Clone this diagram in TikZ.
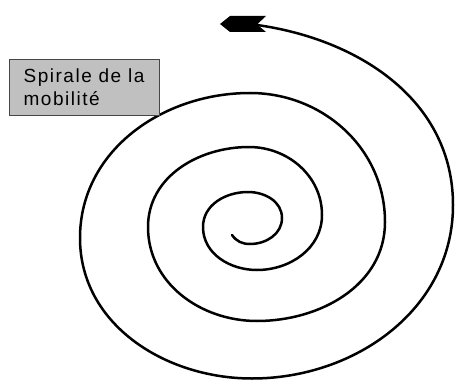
\documentclass[tikz,border=0pt]{standalone}
\usepackage{fontspec}
\usepackage{xcolor}
\usepackage{tikz}
\newfontfamily\legendefont[LetterSpace=8]{Liberation Sans}
\definecolor{grisfond}{RGB}{192,192,192}
\definecolor{grisbord}{RGB}{70,70,70}
\tikzset{
  legende/.style={rectangle,draw=grisbord,fill=grisfond,line width=0.8pt,
    minimum width=150pt,minimum height=56pt,inner sep=0pt,
    align=left,font=\legendefont\fontsize{19}{23}\selectfont},
  spirale/.style={line width=2.5pt,black,line cap=round,line join=round},
  pointe/.style={fill=black,draw=none}
}
\begin{document}
\begin{tikzpicture}[x=1pt,y=1pt]
\useasboundingbox (0,0) rectangle (455,381);
% points extremes de chaque quart de tour
\coordinate (debut) at (232,146);
\coordinate (b0) at (250,137);
\coordinate (r1) at (282,163); \coordinate (t1) at (248,189);
\coordinate (l1) at (203,154); \coordinate (b1) at (257,111);
\coordinate (r2) at (322,166); \coordinate (t2) at (249,234);
\coordinate (l2) at (148,154); \coordinate (b2) at (257,60);
\coordinate (r3) at (385,159); \coordinate (t3) at (250,288);
\coordinate (l3) at (80,143);  \coordinate (b3) at (252,2.5);
\coordinate (r4) at (453,176); \coordinate (fin) at (257,356);
% la spirale, du centre vers l'exterieur
\draw[spirale] (debut) to[out=-55,in=180] (b0)
  to[out=0,in=270] (r1) to[out=90,in=0] (t1)
  to[out=180,in=90] (l1) to[out=270,in=180] (b1)
  to[out=0,in=270] (r2) to[out=90,in=0] (t2)
  to[out=180,in=90] (l2) to[out=270,in=180] (b2)
  to[out=0,in=270] (r3) to[out=90,in=0] (t3)
  to[out=180,in=90] (l3) to[out=270,in=180] (b3)
  to[out=0,in=270] (r4) to[out=90,in=-8] (fin);
% pointe de fleche
\fill[pointe] (220,357) -- (230,365) -- (266,365) -- (257,356.5) -- (266,349)
  -- (230,349) -- cycle;
\node[legende] (titre) at (84,294) {Spirale de la\\mobilité};
\end{tikzpicture}
\end{document}
